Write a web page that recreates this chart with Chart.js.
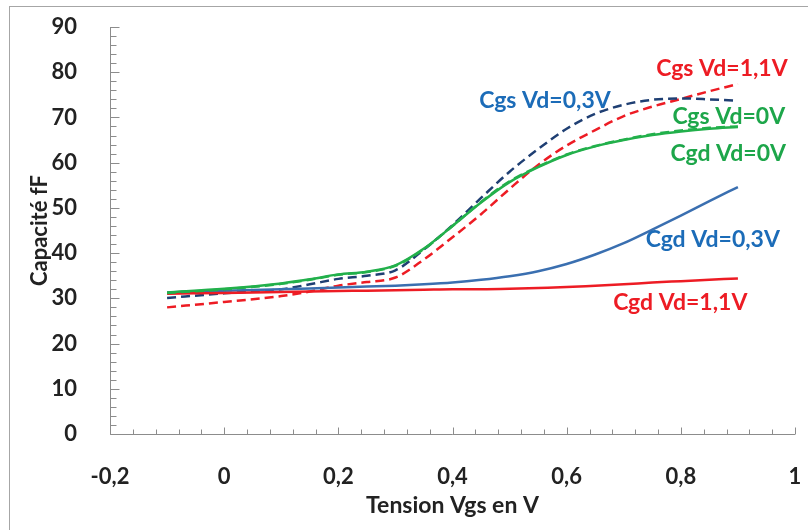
<!DOCTYPE html>
<html>
<head>
<meta charset="utf-8">
<script src="https://cdn.jsdelivr.net/npm/chart.js@4.4.1/dist/chart.umd.min.js"></script>
<style>
  html, body { margin: 0; padding: 0; background: #fff; }
  #wrap { width: 808px; height: 530px; }
</style>
</head>
<body>
<div id="wrap"><canvas id="capChart" width="808" height="530"></canvas></div>
<script>
// Vgs sample points (V)
const vgs = [-0.1, 0, 0.1, 0.15, 0.2, 0.25, 0.3, 0.35, 0.4, 0.45, 0.5, 0.55, 0.6, 0.65, 0.7, 0.75, 0.8, 0.85, 0.9];

// capacitances in fF
const cgdVd0  = [31.3, 32.1, 33.3, 34.2, 35.3, 35.9, 37.3, 41.0, 46.0, 51.2, 55.7, 59.0, 61.7, 63.6, 65.0, 66.1, 66.9, 67.5, 67.9];
const cgsVd0  = [31.2, 32.0, 33.2, 34.1, 35.2, 35.8, 37.2, 40.9, 46.0, 51.3, 55.9, 59.1, 61.8, 63.7, 65.1, 66.3, 67.1, 67.7, 68.0];
const cgsVd03 = [30.1, 31.1, 32.0, 33.1, 34.3, 35.0, 36.2, 40.8, 46.2, 52.2, 58.0, 63.0, 67.5, 70.8, 72.8, 73.9, 74.2, 74.0, 73.7];
const cgsVd11 = [28.0, 29.2, 30.5, 31.5, 32.8, 33.6, 34.6, 38.6, 43.5, 48.6, 54.2, 59.5, 63.8, 67.2, 70.3, 72.4, 74.1, 75.8, 77.4];
const cgdVd03 = [31.3, 31.7, 32.0, 32.2, 32.4, 32.6, 32.8, 33.1, 33.5, 34.1, 34.9, 36.0, 37.6, 39.7, 42.2, 45.2, 48.3, 51.5, 54.6];
const cgdVd11 = [31.0, 31.2, 31.4, 31.5, 31.6, 31.7, 31.8, 31.9, 32.0, 32.0, 32.1, 32.3, 32.5, 32.8, 33.1, 33.5, 33.8, 34.1, 34.4];

// curve labels written on the plot
const labelText = ['Cgs Vd=1,1V', 'Cgs Vd=0,3V', 'Cgs Vd=0V', 'Cgd Vd=0V', 'Cgd Vd=0,3V', 'Cgd Vd=1,1V'];
const labelX    = [0.872, 0.562, 0.884, 0.883, 0.856, 0.799];
const labelY    = [80.9, 73.8, 70.3, 62.1, 42.9, 29.1];
const labelColor = ['#ED1C24', '#1C6CB8', '#1DA64A', '#1DA64A', '#1C6CB8', '#ED1C24'];

const RED = '#ED1C24';
const NAVY = '#1F3F73';
const BLUE = '#3A6FB0';
const GREEN = '#22B04B';
const INK = '#222222';
const FONT = 'Lato';

const pts = (ys) => vgs.map((x, i) => ({ x: x, y: ys[i] }));

const line = (label, ys, color, dashed) => ({
  label: label,
  data: pts(ys),
  borderColor: color,
  borderWidth: 2.5,
  borderDash: dashed ? [9, 5] : [],
  pointRadius: 0,
  fill: false,
  cubicInterpolationMode: 'monotone'
});

const fmt = (v) => String(Math.round(v * 10) / 10).replace('.', ',');

// frame, axes, inward tick marks and the curve labels
const decor = {
  id: 'decor',
  beforeDraw(chart) {
    const ctx = chart.ctx;
    ctx.save();
    ctx.strokeStyle = '#a6a6a6';
    ctx.lineWidth = 1;
    ctx.strokeRect(9.5, 6.5, 900, 600);
    ctx.restore();
  },
  beforeDatasetsDraw(chart) {
    const { ctx, scales: { x, y } } = chart;
    const x0 = Math.round(x.getPixelForValue(-0.2)) + 0.5;
    const y0 = Math.round(y.getPixelForValue(0)) + 0.5;
    ctx.save();
    ctx.strokeStyle = '#8c8c8c';
    ctx.lineWidth = 1;
    ctx.beginPath();
    ctx.moveTo(x0, y.getPixelForValue(90));
    ctx.lineTo(x0, y0);
    ctx.lineTo(x.getPixelForValue(1), y0);
    for (let i = 0; i <= 30; i++) {
      const px = Math.round(x.getPixelForValue(-0.2 + i * 0.04)) + 0.5;
      ctx.moveTo(px, y0);
      ctx.lineTo(px, y0 - (i % 5 === 0 ? 7 : 5));
    }
    for (let i = 0; i <= 45; i++) {
      const py = Math.round(y.getPixelForValue(i * 2)) + 0.5;
      ctx.moveTo(x0, py);
      ctx.lineTo(x0 + (i % 5 === 0 ? 9 : 6), py);
    }
    ctx.stroke();
    ctx.restore();
  },
  afterDatasetsDraw(chart) {
    const { ctx, scales: { x, y } } = chart;
    ctx.save();
    ctx.font = 'bold 23px ' + FONT;
    ctx.textAlign = 'center';
    ctx.textBaseline = 'middle';
    labelText.forEach((t, i) => {
      ctx.fillStyle = labelColor[i];
      ctx.fillText(t, x.getPixelForValue(labelX[i]), y.getPixelForValue(labelY[i]));
    });
    ctx.restore();
  }
};

new Chart(document.getElementById('capChart'), {
  type: 'line',
  data: {
    datasets: [
      line('Cgd Vd=0V', cgdVd0, GREEN, false),
      line('Cgs Vd=0V', cgsVd0, GREEN, true),
      line('Cgd Vd=1,1V', cgdVd11, RED, false),
      line('Cgd Vd=0,3V', cgdVd03, BLUE, false),
      line('Cgs Vd=0,3V', cgsVd03, NAVY, true),
      line('Cgs Vd=1,1V', cgsVd11, RED, true)
    ]
  },
  options: {
    responsive: false,
    animation: false,
    layout: { padding: { top: 27, right: 13, left: 0, bottom: 0 } },
    plugins: {
      legend: { display: false },
      tooltip: { enabled: false }
    },
    scales: {
      x: {
        type: 'linear',
        min: -0.2,
        max: 1,
        grid: { display: false },
        border: { display: false },
        ticks: {
          stepSize: 0.2,
          padding: 22,
          color: INK,
          font: { family: FONT, size: 22, weight: 'bold' },
          callback: (v) => fmt(v)
        },
        title: {
          display: true,
          text: 'Tension Vgs en V',
          color: INK,
          font: { family: FONT, size: 23, weight: 'bold' },
          padding: { top: 0, bottom: 11 }
        },
        afterFit: (s) => {
          s.height = 96;
          s.paddingLeft = 0;
          s.paddingRight = 0;
        }
      },
      y: {
        min: 0,
        max: 90,
        grid: { display: false },
        border: { display: false },
        ticks: {
          stepSize: 10,
          padding: 25,
          color: INK,
          font: { family: FONT, size: 22, weight: 'bold' }
        },
        title: {
          display: true,
          text: 'Capacité fF',
          color: INK,
          font: { family: FONT, size: 22, weight: 'bold' },
          padding: { top: 27, bottom: 0 }
        },
        afterFit: (s) => {
          s.width = 110;
          s.paddingTop = 0;
          s.paddingBottom = 0;
        }
      }
    }
  },
  plugins: [decor]
});
</script>
</body>
</html>
